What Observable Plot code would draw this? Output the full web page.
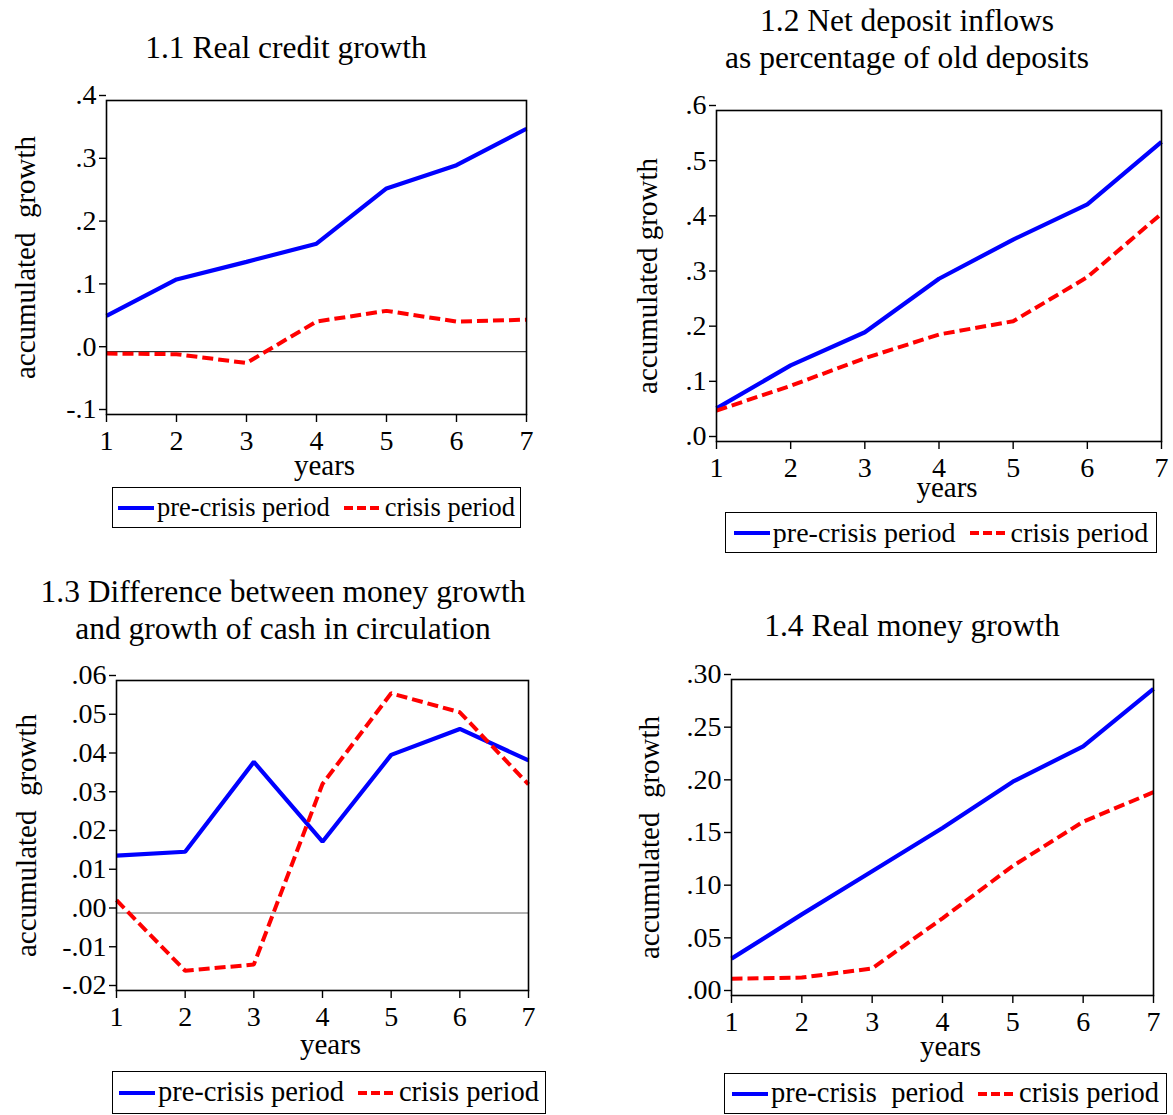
<!DOCTYPE html>
<html><head><meta charset="utf-8">
<script src="https://cdn.jsdelivr.net/npm/d3@7"></script>
<script src="https://cdn.jsdelivr.net/npm/@observablehq/plot@0.6"></script>
<style>
html,body{margin:0;padding:0;background:#fff;}
#root{position:relative;width:1173px;height:1115px;overflow:hidden;font-family:"Liberation Serif","Times New Roman",serif;color:#000;background:#fff;}
.title{position:absolute;text-align:center;font-size:31.5px;line-height:37px;white-space:pre;}
.legend{position:absolute;box-sizing:border-box;border:1.5px solid #000;display:flex;align-items:center;justify-content:center;white-space:pre;line-height:1;}
.legend svg{display:block;flex:none;}
.panel{position:absolute;}
</style></head><body><div id="root"></div>
<script>
// ---- data ----
const years = [1, 2, 3, 4, 5, 6, 7];
const seriesNames = ["pre-crisis period", "crisis period"];

const realCreditPre    = [0.057, 0.115, 0.143, 0.172, 0.260, 0.297, 0.355];
const realCreditCrisis = [-0.003, -0.004, -0.018, 0.048, 0.065, 0.048, 0.051];

const depositPre    = [0.060, 0.138, 0.198, 0.295, 0.366, 0.430, 0.543];
const depositCrisis = [0.056, 0.101, 0.151, 0.194, 0.218, 0.298, 0.413];

const moneyCashPre    = [0.0148, 0.0158, 0.0390, 0.0184, 0.0408, 0.0475, 0.0394];
const moneyCashCrisis = [0.0033, -0.0149, -0.0133, 0.0333, 0.0567, 0.0518, 0.0332];

const realMoneyPre    = [0.035, 0.077, 0.118, 0.159, 0.203, 0.2365, 0.291];
const realMoneyCrisis = [0.016, 0.017, 0.0257, 0.0733, 0.123, 0.165, 0.193];

const ticks1 = [-0.1, 0, 0.1, 0.2, 0.3, 0.4];
const ticks2 = [0, 0.1, 0.2, 0.3, 0.4, 0.5, 0.6];
const ticks3 = [-0.02, -0.01, 0, 0.01, 0.02, 0.03, 0.04, 0.05, 0.06];
const ticks4 = [0, 0.05, 0.10, 0.15, 0.20, 0.25, 0.30];
const xTicks = [1, 2, 3, 4, 5, 6, 7];

const titles = [
  "1.1 Real credit growth",
  "1.2 Net deposit inflows\nas percentage of old deposits",
  "1.3 Difference between money growth\nand growth of cash in circulation",
  "1.4 Real money growth"
];
const yLabels = ["accumulated\u00a0\u00a0growth", "accumulated growth", "accumulated\u00a0\u00a0growth", "accumulated\u00a0\u00a0growth"];
const xLabel = "years";

// ---- helpers ----
function fmt(n) {
  return d => {
    let s = (Math.abs(d) < 1e-12 ? 0 : d).toFixed(n);
    return s.replace(/^(-?)0\./, "$1.");
  };
}
function table(pre, crisis) {
  return years.flatMap((yr, i) => [
    {year: yr, value: pre[i], series: seriesNames[0]},
    {year: yr, value: crisis[i], series: seriesNames[1]}
  ]);
}

const root = document.getElementById("root");
const BLUE = "#0000ff", RED = "#ff0000";

const panels = [
  {pre: realCreditPre, crisis: realCreditCrisis, ticks: ticks1, dec: 1, domain: [-0.1, 0.4], zero: "#000",
   frame: {l: 106, r: 526, t: 100, b: 414}, ylabelDx: -81, yearsDy: 60,
   title: {cx: 286, top: 28.5}, legend: {l: 112, r: 521, t: 487, b: 528, fs: 26.5, pre: "pre-crisis period"}},
  {pre: depositPre, crisis: depositCrisis, ticks: ticks2, dec: 1, domain: [0, 0.6], zero: null,
   frame: {l: 716, r: 1161, t: 110, b: 441}, ylabelDx: -69, yearsDy: 55,
   title: {cx: 907, top: 1.5}, legend: {l: 725, r: 1157, t: 512, b: 553, fs: 28, pre: "pre-crisis period"}},
  {pre: moneyCashPre, crisis: moneyCashCrisis, ticks: ticks3, dec: 2, domain: [-0.02, 0.06], zero: "#666",
   frame: {l: 116, r: 528, t: 680, b: 990}, ylabelDx: -90, yearsDy: 63,
   title: {cx: 283, top: 572.5}, legend: {l: 112, r: 546, t: 1071, b: 1114, fs: 28.5, pre: "pre-crisis period"}},
  {pre: realMoneyPre, crisis: realMoneyCrisis, ticks: ticks4, dec: 2, domain: [0, 0.30], zero: null,
   frame: {l: 731, r: 1153, t: 679, b: 995}, ylabelDx: -82, yearsDy: 60,
   title: {cx: 912, top: 606.5}, legend: {l: 724, r: 1167, t: 1073, b: 1114, fs: 28.5, pre: "pre-crisis\u00a0\u00a0period"}}
];

panels.forEach((p, k) => {
  const ML = 106, MR = 12, MT = 16, MB = 75;
  const fw = p.frame.r - p.frame.l, fh = p.frame.b - p.frame.t;
  const rows = table(p.pre, p.crisis);
  const marks = [];
  if (p.zero) marks.push(Plot.ruleY([0], {stroke: p.zero, strokeWidth: 1}));
  marks.push(
    Plot.line(rows.filter(d => d.series === seriesNames[0]), {x: "year", y: "value", stroke: BLUE, strokeWidth: 4.2, strokeLinejoin: "miter", strokeLinecap: "butt"}),
    Plot.line(rows.filter(d => d.series === seriesNames[1]), {x: "year", y: "value", stroke: RED, strokeWidth: 4, strokeDasharray: "11,5", strokeLinejoin: "miter", strokeLinecap: "butt"}),
    Plot.frame({stroke: "#000", strokeWidth: 1.6}),
    Plot.axisY(p.ticks, {anchor: "left", tickSize: 7, tickPadding: 3, tickFormat: fmt(p.dec), fontSize: 28, dy: -5, label: null, strokeWidth: 1.4, fontVariant: "normal"}),
    Plot.axisX(xTicks, {anchor: "bottom", tickSize: 8, tickPadding: 8, tickFormat: d => String(d), fontSize: 28, label: null, strokeWidth: 1.4, fontVariant: "normal"}),
    Plot.text([yLabels[k]], {text: d => d, frameAnchor: "left", rotate: -90, dx: p.ylabelDx, lineAnchor: "middle", textAnchor: "middle", fontSize: 29}),
    Plot.text([xLabel], {text: d => d, frameAnchor: "bottom", dx: 8, dy: p.yearsDy, lineAnchor: "bottom", textAnchor: "middle", fontSize: 29})
  );
  const chart = Plot.plot({
    width: ML + fw + MR,
    height: MT + fh + MB,
    marginLeft: ML, marginRight: MR, marginTop: MT, marginBottom: MB,
    x: {type: "linear", domain: [1, 7], axis: null},
    y: {type: "linear", domain: p.domain, axis: null},
    style: {fontFamily: "'Liberation Serif','Times New Roman',serif", fontSize: "28px", background: "transparent", color: "#000", overflow: "visible"},
    marks
  });
  const wrap = document.createElement("div");
  wrap.className = "panel";
  wrap.style.left = (p.frame.l - ML) + "px";
  wrap.style.top = (p.frame.t - MT) + "px";
  wrap.appendChild(chart);
  root.appendChild(wrap);

  // title
  const t = document.createElement("div");
  t.className = "title";
  t.style.left = (p.title.cx - 300) + "px";
  t.style.width = "600px";
  t.style.top = p.title.top + "px";
  t.textContent = titles[k];
  root.appendChild(t);

  // legend
  const L = p.legend;
  const lg = document.createElement("div");
  lg.className = "legend";
  lg.style.left = L.l + "px";
  lg.style.top = L.t + "px";
  lg.style.width = (L.r - L.l) + "px";
  lg.style.height = (L.b - L.t) + "px";
  lg.style.fontSize = L.fs + "px";
  const sample = (color, dash) =>
    `<svg width="36" height="8"><line x1="0" x2="36" y1="4" y2="4" stroke="${color}" stroke-width="4" ${dash ? 'stroke-dasharray="9,4"' : ''}/></svg>`;
  lg.innerHTML =
    sample(BLUE, false) + `<span style="margin-left:3px">${L.pre}</span>` +
    `<span style="display:inline-block;width:14px"></span>` +
    sample(RED, true) + `<span style="margin-left:5px">${seriesNames[1]}</span>`;
  root.appendChild(lg);
});
</script></body></html>
